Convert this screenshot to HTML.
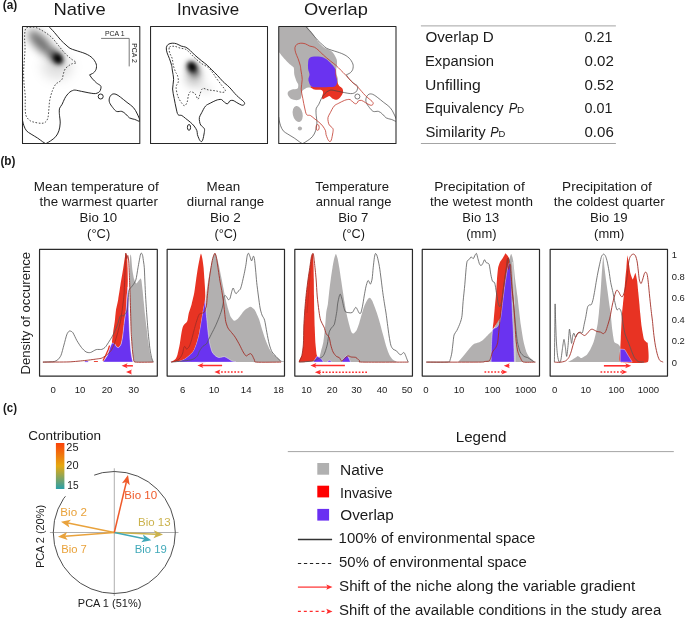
<!DOCTYPE html>
<html lang="en"><head><meta charset="utf-8"><title>Niche overlap figure</title>
<style>
html,body{margin:0;padding:0;background:#fff;}
svg{display:block;font-family:"Liberation Sans", sans-serif;}
</style></head><body>
<svg width="685" height="618" viewBox="0 0 685 618">
<defs>
<filter id="b5" filterUnits="userSpaceOnUse" x="0" y="0" width="420" height="170"><feGaussianBlur stdDeviation="4.2"/></filter>
<filter id="b3" filterUnits="userSpaceOnUse" x="0" y="0" width="420" height="170"><feGaussianBlur stdDeviation="3.0"/></filter>
<filter id="b2" filterUnits="userSpaceOnUse" x="0" y="0" width="420" height="170"><feGaussianBlur stdDeviation="2.0"/></filter>
<filter id="b8" filterUnits="userSpaceOnUse" x="0" y="0" width="420" height="170"><feGaussianBlur stdDeviation="6.0"/></filter>
<clipPath id="cpa0"><rect x="22.5" y="26.45" width="117.3" height="116.95"/></clipPath>
<clipPath id="cpa1"><rect x="150.55" y="26.45" width="116.95" height="116.95"/></clipPath>
<clipPath id="cpa2"><rect x="278.75" y="26.45" width="117.25" height="116.95"/></clipPath>
<clipPath id="cpb0"><rect x="39.55" y="249.45" width="117.75" height="126.6"/></clipPath>
<clipPath id="cpb1"><rect x="167.15" y="249.45" width="117.35" height="126.6"/></clipPath>
<clipPath id="cpb2"><rect x="294.8" y="249.45" width="117.65" height="126.6"/></clipPath>
<clipPath id="cpb3"><rect x="422.25" y="249.45" width="117.25" height="126.6"/></clipPath>
<clipPath id="cpb4"><rect x="550.15" y="249.45" width="117.35" height="126.6"/></clipPath>
<linearGradient id="cg" x1="0" y1="0" x2="0" y2="1"><stop offset="0" stop-color="#fb4209"/><stop offset="0.5" stop-color="#e4a911"/><stop offset="1" stop-color="#2a9fa8"/></linearGradient>
</defs>
<rect width="685" height="618" fill="#fff"/>
<text x="53.53" y="15.2" font-size="17" textLength="52.09" lengthAdjust="spacingAndGlyphs" fill="#1a1a1a" >Native</text>
<text x="176.98" y="15.2" font-size="17" textLength="62.15" lengthAdjust="spacingAndGlyphs" fill="#1a1a1a" >Invasive</text>
<text x="304.08" y="15.2" font-size="17" textLength="63.78" lengthAdjust="spacingAndGlyphs" fill="#1a1a1a" >Overlap</text>
<text x="2.71" y="9.1" font-size="12" textLength="14.45" lengthAdjust="spacingAndGlyphs" fill="#1a1a1a" font-weight="bold" >(a)</text>
<g clip-path="url(#cpa0)">
<g filter="url(#b8)"><ellipse cx="57" cy="67" rx="15" ry="12" fill="#000" opacity="0.12"/></g>
<g filter="url(#b5)"><ellipse cx="41" cy="43" rx="17" ry="6.5" fill="#000" opacity="0.58" transform="rotate(45 41 43)"/></g>
<g filter="url(#b3)"><ellipse cx="56" cy="57" rx="8.5" ry="6" fill="#000" opacity="0.6" transform="rotate(50 56 57)"/></g>
<g filter="url(#b2)"><ellipse cx="57.9" cy="58.7" rx="5.2" ry="4" fill="#000" transform="rotate(50 57.9 58.7)"/></g>
</g>
<g clip-path="url(#cpa0)"><g transform="translate(0 0)" fill="none" stroke="#1a1a1a" stroke-width="0.95" stroke-linejoin="round"><path d="M46.5,24C46.83,24.37 47.18,24.8 48.5,26.2C49.82,27.6 52.35,30.08 54.4,32.4C56.45,34.72 58.87,38 60.8,40.1C62.73,42.2 64.47,43.63 66,45C67.53,46.37 68.5,47.43 70,48.3C71.5,49.17 73.27,49.6 75,50.2C76.73,50.8 78.73,51.35 80.4,51.9C82.07,52.45 83.5,52.87 85,53.5C86.5,54.13 88.15,54.92 89.4,55.7C90.65,56.48 91.63,57.35 92.5,58.2C93.37,59.05 93.98,59.83 94.6,60.8C95.22,61.77 95.88,63.02 96.2,64C96.52,64.98 96.53,65.78 96.5,66.7C96.47,67.62 96.32,68.65 96,69.5C95.68,70.35 95.18,71.13 94.6,71.8C94.02,72.47 93.33,73 92.5,73.5C91.67,74 90.08,74.58 89.6,74.8"/><path d="M89.6,74.8C89.83,75.17 90.48,76.28 91,77C91.52,77.72 91.78,78.12 92.7,79.1C93.62,80.08 95.22,81.83 96.5,82.9C97.78,83.97 99.65,84.82 100.4,85.5C101.15,86.18 100.93,86.45 101,87C101.07,87.55 100.93,88.2 100.8,88.8C100.67,89.4 100.48,90.07 100.2,90.6C99.92,91.13 99.63,91.57 99.1,92C98.57,92.43 97.87,92.93 97,93.2C96.13,93.47 95.38,93.68 93.9,93.6C92.42,93.52 90.13,93.07 88.1,92.7C86.07,92.33 83.85,91.83 81.7,91.4C79.55,90.97 76.73,90.23 75.2,90.1C73.67,89.97 73.38,90.28 72.5,90.6C71.62,90.92 70.82,91.27 69.9,92C68.98,92.73 67.87,93.92 67,95C66.13,96.08 65.52,96.95 64.7,98.5C63.88,100.05 62.95,102.68 62.1,104.3C61.25,105.92 60.07,106.92 59.6,108.2C59.13,109.48 59.32,110.82 59.3,112C59.28,113.18 59.35,113.45 59.5,115.3C59.65,117.15 60.3,120.52 60.2,123.1C60.1,125.68 59.65,128.53 58.9,130.8C58.15,133.07 57.1,135.02 55.7,136.7C54.3,138.38 52.07,139.78 50.5,140.9C48.93,142.02 47.55,142.68 46.3,143.4C45.05,144.12 43.55,144.9 43,145.2"/><path d="M47.5,145.5C47.12,145.15 46,144.02 45.2,143.4C44.4,142.78 43.98,142.7 42.7,141.8C41.42,140.9 39.43,139.28 37.5,138C35.57,136.72 32.93,135.3 31.1,134.1C29.27,132.9 27.7,132.2 26.5,130.8C25.3,129.4 24.55,127.37 23.9,125.7C23.25,124.03 22.92,122.25 22.6,120.8C22.28,119.35 22.1,117.63 22,117"/><path d="M139.9,121.1C140.33,120.2 138.38,116.27 137.3,114C136.22,111.73 135.12,109.43 133.4,107.5C131.68,105.57 129.15,104.12 127,102.4C124.85,100.68 122.33,98.55 120.5,97.2C118.67,95.85 117.4,94.78 116,94.3C114.6,93.82 113.18,93.72 112.1,94.3C111.02,94.88 109.93,96.45 109.5,97.8C109.07,99.15 108.97,100.78 109.5,102.4C110.03,104.02 111.52,106 112.7,107.5C113.88,109 115.08,110.75 116.6,111.4C118.12,112.05 120.28,110.97 121.8,111.4C123.32,111.83 124.42,112.92 125.7,114C126.98,115.08 128,117 129.5,117.9C131,118.8 132.97,118.87 134.7,119.4C136.43,119.93 139.47,122 139.9,121.1Z"/><circle cx="100.7" cy="96.5" r="2.5"/></g></g>
<path d="M26.5,27.8C27.5,27.17 29.38,27.23 31,27.2C32.62,27.17 34.03,26.85 36.2,27.6C38.37,28.35 41.4,30.05 44,31.7C46.6,33.35 49.42,35.23 51.8,37.5C54.18,39.77 56.15,42.7 58.3,45.3C60.45,47.9 62.55,50.83 64.7,53.1C66.85,55.37 69.28,57.32 71.2,58.9C73.12,60.48 75.98,61.82 76.2,62.6C76.42,63.38 73.55,63.22 72.5,63.6C71.45,63.98 71.08,64.07 69.9,64.9C68.72,65.73 66.48,67.12 65.4,68.6C64.32,70.08 63.95,72.05 63.4,73.8C62.85,75.55 62.83,77.73 62.1,79.1C61.37,80.47 60.07,81.15 59,82C57.93,82.85 56.8,82.75 55.7,84.2C54.6,85.65 53.38,88.1 52.4,90.7C51.42,93.3 50.38,96.78 49.8,99.8C49.22,102.82 49.22,105.78 48.9,108.8C48.58,111.82 48.5,115.67 47.9,117.9C47.3,120.13 46.38,121.3 45.3,122.2C44.22,123.1 43.12,123.27 41.4,123.3C39.68,123.33 36.93,122.87 35,122.4C33.07,121.93 31.32,121.68 29.8,120.5C28.28,119.32 26.67,117.68 25.9,115.3C25.13,112.92 25.32,109.43 25.2,106.2C25.08,102.97 25.4,99.78 25.2,95.9C25,92.02 24.27,86.72 24,82.9C23.73,79.08 23.63,75.6 23.6,73C23.57,70.4 23.57,71.27 23.8,67.3C24.03,63.33 24.87,53.95 25,49.2C25.13,44.45 24.6,41.83 24.6,38.8C24.6,35.77 24.68,32.83 25,31C25.32,29.17 25.5,28.43 26.5,27.8Z" fill="none" stroke="#222" stroke-width="0.8" stroke-dasharray="1.6 1.6"/>
<path d="M101.1,38.4H129.2V66.4" fill="none" stroke="#787878" stroke-width="1"/>
<text x="105" y="35.7" font-size="6.5" textLength="19.6" lengthAdjust="spacingAndGlyphs" fill="#222" >PCA 1</text>
<text x="132.1" y="43.2" font-size="6.5" textLength="19.6" lengthAdjust="spacingAndGlyphs" fill="#222" transform="rotate(90 132.1 43.2)" >PCA 2</text>
<g clip-path="url(#cpa1)">
<g filter="url(#b5)"><ellipse cx="194" cy="78" rx="9" ry="9" fill="#000" opacity="0.2"/><ellipse cx="206" cy="89" rx="5" ry="3" fill="#000" opacity="0.15"/></g>
<g filter="url(#b3)"><ellipse cx="193" cy="69" rx="8" ry="5.4" fill="#000" opacity="0.66" transform="rotate(58 193 69)"/></g>
<g filter="url(#b2)"><ellipse cx="192" cy="66.8" rx="5" ry="3.8" fill="#000" transform="rotate(58 192 66.8)"/></g>
</g>
<g transform="translate(0 0)" fill="none" stroke="#1a1a1a" stroke-width="0.95" stroke-linejoin="round"><path d="M172.2,43.2C173.62,43.1 175.2,43.32 176.7,43.8C178.2,44.28 179.68,45.53 181.2,46.1C182.72,46.67 184.28,46.45 185.8,47.2C187.32,47.95 188.8,49.28 190.3,50.6C191.8,51.92 192.92,53.4 194.8,55.1C196.68,56.8 199.52,59.1 201.6,60.8C203.68,62.5 205.6,63.8 207.3,65.3C209,66.8 210.1,68.1 211.8,69.8C213.5,71.5 215.62,73.52 217.5,75.5C219.38,77.48 221.15,79.77 223.1,81.7C225.05,83.63 226.92,84.78 229.2,87.1C231.48,89.42 234.43,93.23 236.8,95.6C239.17,97.97 242.1,99.97 243.4,101.3C244.7,102.63 244.57,102.98 244.6,103.6C244.63,104.22 244.12,104.75 243.6,105C243.08,105.25 242.63,105.5 241.5,105.1C240.37,104.7 238.22,103.38 236.8,102.6C235.38,101.82 234.17,100.68 233,100.4C231.83,100.12 230.53,100.48 229.8,100.9C229.07,101.32 229.07,102.42 228.6,102.9C228.13,103.38 227.68,103.9 227,103.8C226.32,103.7 225.4,103 224.5,102.3C223.6,101.6 222.55,100.05 221.6,99.6C220.65,99.15 219.75,99.47 218.8,99.6C217.85,99.73 217.33,99.8 215.9,100.4C214.47,101 211.93,102.25 210.2,103.2C208.47,104.15 206.92,104.52 205.5,106.1C204.08,107.68 202.72,110.82 201.7,112.7C200.68,114.58 199.75,115.93 199.4,117.4C199.05,118.87 199.38,120.23 199.6,121.5C199.82,122.77 199.92,123.82 200.7,125C201.48,126.18 203.7,127.35 204.3,128.6C204.9,129.85 204.42,131.2 204.3,132.5C204.18,133.8 203.88,135.1 203.6,136.4C203.32,137.7 202.97,139.43 202.6,140.3C202.23,141.17 201.83,141.55 201.4,141.6C200.97,141.65 200.43,141.15 200,140.6C199.57,140.05 199.23,139.32 198.8,138.3C198.37,137.28 197.72,135.77 197.4,134.5C197.08,133.23 197.45,132.12 196.9,130.7C196.35,129.28 195.2,127.42 194.1,126C193,124.58 191.73,123.47 190.3,122.2C188.87,120.93 186.92,119.52 185.5,118.4C184.08,117.28 183.05,116.13 181.8,115.5C180.55,114.87 178.95,115.85 178,114.6C177.05,113.35 176.73,110.68 176.1,108C175.47,105.32 174.78,101.67 174.2,98.5C173.62,95.33 172.7,92.17 172.6,89C172.5,85.83 173.65,82.67 173.6,79.5C173.55,76.33 172.63,72.37 172.3,70C171.97,67.63 172.08,67.22 171.6,65.3C171.12,63.38 170.15,60.58 169.4,58.5C168.65,56.42 167.62,54.58 167.1,52.8C166.58,51.02 166.12,49.2 166.3,47.8C166.48,46.4 167.22,45.17 168.2,44.4C169.18,43.63 170.78,43.3 172.2,43.2Z"/><ellipse cx="189" cy="127.4" rx="1.6" ry="2.9"/></g>
<path d="M169.4,47.2C170.18,46.12 172.62,46.15 174.4,46.3C176.18,46.45 178.2,47.58 180.1,48.1C182,48.62 184.1,48.52 185.8,49.4C187.5,50.28 188.8,51.98 190.3,53.4C191.8,54.82 192.92,56.2 194.8,57.9C196.68,59.6 199.33,61.98 201.6,63.6C203.87,65.22 206.5,66 208.4,67.6C210.3,69.2 211.75,71.53 213,73.2C214.25,74.87 214.47,75.6 215.9,77.6C217.33,79.6 220.02,83.03 221.6,85.2C223.18,87.37 225.23,89.4 225.4,90.6C225.57,91.8 224.18,92.35 222.6,92.4C221.02,92.45 218.28,91.32 215.9,90.9C213.52,90.48 210.52,90.28 208.3,89.9C206.08,89.52 204.02,87.8 202.6,88.6C201.18,89.4 200.58,92.93 199.8,94.7C199.02,96.47 198.7,99.37 197.9,99.2C197.1,99.03 196.27,94.93 195,93.7C193.73,92.47 191.4,91.48 190.3,91.8C189.2,92.12 188.93,93.85 188.4,95.6C187.87,97.35 187.73,100.62 187.1,102.3C186.47,103.98 185.48,105.55 184.6,105.7C183.72,105.85 182.9,104.72 181.8,103.2C180.7,101.68 178.95,99.28 178,96.6C177.05,93.92 176.03,89.62 176.1,87.1C176.17,84.58 178.2,83.52 178.4,81.5C178.6,79.48 177.77,76.57 177.3,75C176.83,73.43 176.27,73.72 175.6,72.1C174.93,70.48 173.87,67.57 173.3,65.3C172.73,63.03 172.8,60.58 172.2,58.5C171.6,56.42 170.17,54.68 169.7,52.8C169.23,50.92 168.62,48.28 169.4,47.2Z" fill="none" stroke="#222" stroke-width="0.8" stroke-dasharray="1.6 1.6"/>
<g clip-path="url(#cpa2)">
<path d="M278.6,26C282.12,22.67 300.95,25.59 305,26C309.05,26.41 307.87,27.94 309,29.1C310.13,30.26 312.3,33.05 313.5,34.7C314.7,36.35 316.64,39.83 318,41.5C319.36,43.17 322.03,45.99 323.7,47.2C325.37,48.41 329.14,49.69 330.5,50.6C331.86,51.51 333.07,52.8 333.9,54C334.73,55.2 336.29,58.24 336.7,59.6C337.11,60.96 337.07,62.81 337,64.2C336.93,65.59 336.24,68.64 336.2,70C336.16,71.36 336.47,73.21 336.7,74.4C336.93,75.59 337.82,77.7 337.9,78.9C337.98,80.1 337.82,82.19 337.3,83.4C336.78,84.61 337.63,87.44 334,88C330.37,88.56 313.89,87.53 310.1,87.6C306.31,87.67 306.63,88.07 305.6,88.5C304.57,88.93 302.93,89.97 302.4,90.8C301.87,91.63 301.85,93.65 301.6,94.7C301.35,95.75 301.18,97.97 300.5,98.7C299.82,99.43 297.78,100.2 296.5,100.2C295.22,100.2 292.03,99.35 290.9,98.7C289.77,98.05 288.39,96.21 288,95.3C287.61,94.39 287.47,92.66 288,91.9C288.53,91.14 290.73,90.05 292,89.6C293.27,89.15 296.67,89.18 297.5,88.5C298.33,87.82 298.33,85.47 298.2,84.5C298.07,83.53 297.02,82.55 296.5,81.2C295.98,79.85 294.67,76.21 294.3,74.4C293.93,72.59 294.31,68.96 293.7,67.6C293.09,66.24 290.98,65.41 289.7,64.2C288.42,62.99 285.46,60.02 284.1,58.5C282.74,56.98 280.23,53.8 279.5,52.8C278.77,51.8 278.72,54.57 278.6,51C278.48,47.43 275.08,29.33 278.6,26Z" fill="#b2b0b0"/>
<ellipse cx="297.7" cy="114" rx="4.9" ry="8.1" fill="#b2b0b0" transform="rotate(-12 297.7 114)"/>
<circle cx="299.9" cy="128.5" r="2.1" fill="#b2b0b0"/>
<path d="M311.2,86.4C308.75,86.88 313.24,89.12 314.6,89.6C315.96,90.08 320.27,89.61 321.4,90C322.53,90.39 323.02,91.57 323.1,92.5C323.18,93.43 322.04,96.09 322,97C321.96,97.91 322.27,99.22 322.8,99.3C323.33,99.38 325.12,98.05 326,97.6C326.88,97.15 328.49,95.75 329.4,95.9C330.31,96.05 331.83,98.18 332.8,98.7C333.77,99.22 335.73,99.95 336.7,99.8C337.67,99.65 339.26,98.57 340.1,97.6C340.94,96.63 342.69,93.71 343,92.5C343.31,91.29 342.85,89.34 342.4,88.5C341.95,87.66 340.2,86.88 339.6,86.2C339,85.52 338.25,84.23 337.9,83.4C337.55,82.57 337.27,81.25 337,80C336.73,78.75 336.11,75.47 335.9,74C335.69,72.53 335.79,69.53 335.4,69C335.01,68.47 333.32,67.73 333,70C332.68,72.27 335.91,83.81 333,86C330.09,88.19 313.65,85.92 311.2,86.4Z" fill="#e83323"/>
<path d="M309,58.7C309.72,57.67 310.52,57.12 312.4,56.8C314.28,56.48 318.03,56.42 320.3,56.8C322.57,57.18 324.12,57.87 326,59.1C327.88,60.33 330.1,62.6 331.6,64.2C333.1,65.8 334.33,66.82 335,68.7C335.67,70.58 335.25,73.42 335.6,75.5C335.95,77.58 337,79.6 337.1,81.2C337.2,82.8 336.73,84.17 336.2,85.1C335.67,86.03 335.6,86.45 333.9,86.8C332.2,87.15 329.22,87.13 326,87.2C322.78,87.27 317.15,87.45 314.6,87.2C312.05,86.95 311.63,86.52 310.7,85.7C309.77,84.88 309.38,83.43 309,82.3C308.62,81.17 308.32,80.22 308.4,78.9C308.48,77.58 309.55,76.1 309.5,74.4C309.45,72.7 308.33,70.6 308.1,68.7C307.87,66.8 307.95,64.67 308.1,63C308.25,61.33 308.28,59.73 309,58.7Z" fill="#6a33f0"/>
</g>
<g clip-path="url(#cpa2)"><g transform="translate(256.7 0)" fill="none" stroke="#444" stroke-width="0.7" stroke-linejoin="round"><path d="M46.5,24C46.83,24.37 47.18,24.8 48.5,26.2C49.82,27.6 52.35,30.08 54.4,32.4C56.45,34.72 58.87,38 60.8,40.1C62.73,42.2 64.47,43.63 66,45C67.53,46.37 68.5,47.43 70,48.3C71.5,49.17 73.27,49.6 75,50.2C76.73,50.8 78.73,51.35 80.4,51.9C82.07,52.45 83.5,52.87 85,53.5C86.5,54.13 88.15,54.92 89.4,55.7C90.65,56.48 91.63,57.35 92.5,58.2C93.37,59.05 93.98,59.83 94.6,60.8C95.22,61.77 95.88,63.02 96.2,64C96.52,64.98 96.53,65.78 96.5,66.7C96.47,67.62 96.32,68.65 96,69.5C95.68,70.35 95.18,71.13 94.6,71.8C94.02,72.47 93.33,73 92.5,73.5C91.67,74 90.08,74.58 89.6,74.8"/><path d="M89.6,74.8C89.83,75.17 90.48,76.28 91,77C91.52,77.72 91.78,78.12 92.7,79.1C93.62,80.08 95.22,81.83 96.5,82.9C97.78,83.97 99.65,84.82 100.4,85.5C101.15,86.18 100.93,86.45 101,87C101.07,87.55 100.93,88.2 100.8,88.8C100.67,89.4 100.48,90.07 100.2,90.6C99.92,91.13 99.63,91.57 99.1,92C98.57,92.43 97.87,92.93 97,93.2C96.13,93.47 95.38,93.68 93.9,93.6C92.42,93.52 90.13,93.07 88.1,92.7C86.07,92.33 83.85,91.83 81.7,91.4C79.55,90.97 76.73,90.23 75.2,90.1C73.67,89.97 73.38,90.28 72.5,90.6C71.62,90.92 70.82,91.27 69.9,92C68.98,92.73 67.87,93.92 67,95C66.13,96.08 65.52,96.95 64.7,98.5C63.88,100.05 62.95,102.68 62.1,104.3C61.25,105.92 60.07,106.92 59.6,108.2C59.13,109.48 59.32,110.82 59.3,112C59.28,113.18 59.35,113.45 59.5,115.3C59.65,117.15 60.3,120.52 60.2,123.1C60.1,125.68 59.65,128.53 58.9,130.8C58.15,133.07 57.1,135.02 55.7,136.7C54.3,138.38 52.07,139.78 50.5,140.9C48.93,142.02 47.55,142.68 46.3,143.4C45.05,144.12 43.55,144.9 43,145.2"/><path d="M47.5,145.5C47.12,145.15 46,144.02 45.2,143.4C44.4,142.78 43.98,142.7 42.7,141.8C41.42,140.9 39.43,139.28 37.5,138C35.57,136.72 32.93,135.3 31.1,134.1C29.27,132.9 27.7,132.2 26.5,130.8C25.3,129.4 24.55,127.37 23.9,125.7C23.25,124.03 22.92,122.25 22.6,120.8C22.28,119.35 22.1,117.63 22,117"/><path d="M139.9,121.1C140.33,120.2 138.38,116.27 137.3,114C136.22,111.73 135.12,109.43 133.4,107.5C131.68,105.57 129.15,104.12 127,102.4C124.85,100.68 122.33,98.55 120.5,97.2C118.67,95.85 117.4,94.78 116,94.3C114.6,93.82 113.18,93.72 112.1,94.3C111.02,94.88 109.93,96.45 109.5,97.8C109.07,99.15 108.97,100.78 109.5,102.4C110.03,104.02 111.52,106 112.7,107.5C113.88,109 115.08,110.75 116.6,111.4C118.12,112.05 120.28,110.97 121.8,111.4C123.32,111.83 124.42,112.92 125.7,114C126.98,115.08 128,117 129.5,117.9C131,118.8 132.97,118.87 134.7,119.4C136.43,119.93 139.47,122 139.9,121.1Z"/><circle cx="100.7" cy="96.5" r="2.5"/></g></g>
<g transform="translate(128.6 0)" fill="none" stroke="#c0362a" stroke-width="0.8" stroke-linejoin="round"><path d="M172.2,43.2C173.62,43.1 175.2,43.32 176.7,43.8C178.2,44.28 179.68,45.53 181.2,46.1C182.72,46.67 184.28,46.45 185.8,47.2C187.32,47.95 188.8,49.28 190.3,50.6C191.8,51.92 192.92,53.4 194.8,55.1C196.68,56.8 199.52,59.1 201.6,60.8C203.68,62.5 205.6,63.8 207.3,65.3C209,66.8 210.1,68.1 211.8,69.8C213.5,71.5 215.62,73.52 217.5,75.5C219.38,77.48 221.15,79.77 223.1,81.7C225.05,83.63 226.92,84.78 229.2,87.1C231.48,89.42 234.43,93.23 236.8,95.6C239.17,97.97 242.1,99.97 243.4,101.3C244.7,102.63 244.57,102.98 244.6,103.6C244.63,104.22 244.12,104.75 243.6,105C243.08,105.25 242.63,105.5 241.5,105.1C240.37,104.7 238.22,103.38 236.8,102.6C235.38,101.82 234.17,100.68 233,100.4C231.83,100.12 230.53,100.48 229.8,100.9C229.07,101.32 229.07,102.42 228.6,102.9C228.13,103.38 227.68,103.9 227,103.8C226.32,103.7 225.4,103 224.5,102.3C223.6,101.6 222.55,100.05 221.6,99.6C220.65,99.15 219.75,99.47 218.8,99.6C217.85,99.73 217.33,99.8 215.9,100.4C214.47,101 211.93,102.25 210.2,103.2C208.47,104.15 206.92,104.52 205.5,106.1C204.08,107.68 202.72,110.82 201.7,112.7C200.68,114.58 199.75,115.93 199.4,117.4C199.05,118.87 199.38,120.23 199.6,121.5C199.82,122.77 199.92,123.82 200.7,125C201.48,126.18 203.7,127.35 204.3,128.6C204.9,129.85 204.42,131.2 204.3,132.5C204.18,133.8 203.88,135.1 203.6,136.4C203.32,137.7 202.97,139.43 202.6,140.3C202.23,141.17 201.83,141.55 201.4,141.6C200.97,141.65 200.43,141.15 200,140.6C199.57,140.05 199.23,139.32 198.8,138.3C198.37,137.28 197.72,135.77 197.4,134.5C197.08,133.23 197.45,132.12 196.9,130.7C196.35,129.28 195.2,127.42 194.1,126C193,124.58 191.73,123.47 190.3,122.2C188.87,120.93 186.92,119.52 185.5,118.4C184.08,117.28 183.05,116.13 181.8,115.5C180.55,114.87 178.95,115.85 178,114.6C177.05,113.35 176.73,110.68 176.1,108C175.47,105.32 174.78,101.67 174.2,98.5C173.62,95.33 172.7,92.17 172.6,89C172.5,85.83 173.65,82.67 173.6,79.5C173.55,76.33 172.63,72.37 172.3,70C171.97,67.63 172.08,67.22 171.6,65.3C171.12,63.38 170.15,60.58 169.4,58.5C168.65,56.42 167.62,54.58 167.1,52.8C166.58,51.02 166.12,49.2 166.3,47.8C166.48,46.4 167.22,45.17 168.2,44.4C169.18,43.63 170.78,43.3 172.2,43.2Z"/><ellipse cx="189" cy="127.4" rx="1.6" ry="2.9"/></g>
<rect x="22.5" y="26.45" width="117.3" height="116.95" fill="none" stroke="#262626" stroke-width="1.05" stroke-linejoin="round"/>
<rect x="150.55" y="26.45" width="116.95" height="116.95" fill="none" stroke="#262626" stroke-width="1.05" stroke-linejoin="round"/>
<rect x="278.75" y="26.45" width="117.25" height="116.95" fill="none" stroke="#262626" stroke-width="1.05" stroke-linejoin="round"/>
<path d="M420.9,25.9H615.9M420.9,143.5H615.9" stroke="#a4a4a4" stroke-width="1" fill="none"/>
<text x="425.42" y="42.4" font-size="14" textLength="68.39" lengthAdjust="spacingAndGlyphs" fill="#1a1a1a" >Overlap D</text>
<text x="424.92" y="66" font-size="14" textLength="69.15" lengthAdjust="spacingAndGlyphs" fill="#1a1a1a" >Expansion</text>
<text x="424.92" y="89.7" font-size="14" textLength="55.94" lengthAdjust="spacingAndGlyphs" fill="#1a1a1a" >Unfilling</text>
<text x="424.93" y="113.4" font-size="14" textLength="78.67" lengthAdjust="spacingAndGlyphs" fill="#1a1a1a" >Equivalency</text>
<text x="508.71" y="113.4" font-size="14" textLength="8.58" lengthAdjust="spacingAndGlyphs" fill="#1a1a1a" font-style="italic" >P</text>
<text x="516.91" y="113.4" font-size="8.8" textLength="7.16" lengthAdjust="spacingAndGlyphs" fill="#1a1a1a" >D</text>
<text x="425.43" y="137.1" font-size="14" textLength="60.15" lengthAdjust="spacingAndGlyphs" fill="#1a1a1a" >Similarity</text>
<text x="490.32" y="137.1" font-size="14" textLength="8.47" lengthAdjust="spacingAndGlyphs" fill="#1a1a1a" font-style="italic" >P</text>
<text x="498.45" y="137.1" font-size="8.8" textLength="6.8" lengthAdjust="spacingAndGlyphs" fill="#1a1a1a" >D</text>
<text x="584.53" y="42.4" font-size="14" textLength="27.91" lengthAdjust="spacingAndGlyphs" fill="#1a1a1a" >0.21</text>
<text x="584.5" y="66" font-size="14" textLength="29.38" lengthAdjust="spacingAndGlyphs" fill="#1a1a1a" >0.02</text>
<text x="584.5" y="89.7" font-size="14" textLength="29.38" lengthAdjust="spacingAndGlyphs" fill="#1a1a1a" >0.52</text>
<text x="584.53" y="113.4" font-size="14" textLength="27.91" lengthAdjust="spacingAndGlyphs" fill="#1a1a1a" >0.01</text>
<text x="584.5" y="137.1" font-size="14" textLength="29.3" lengthAdjust="spacingAndGlyphs" fill="#1a1a1a" >0.06</text>
<text x="0.41" y="164.6" font-size="12" textLength="15.04" lengthAdjust="spacingAndGlyphs" fill="#1a1a1a" font-weight="bold" >(b)</text>
<text x="33.82" y="190.7" font-size="12.2" textLength="124.95" lengthAdjust="spacingAndGlyphs" fill="#1a1a1a" >Mean temperature of</text>
<text x="39.6" y="206.3" font-size="12.2" textLength="118.24" lengthAdjust="spacingAndGlyphs" fill="#1a1a1a" >the warmest quarter</text>
<text x="79.64" y="221.9" font-size="12.2" textLength="37.49" lengthAdjust="spacingAndGlyphs" fill="#1a1a1a" >Bio 10</text>
<text x="87.13" y="237.5" font-size="12.2" textLength="23.09" lengthAdjust="spacingAndGlyphs" fill="#1a1a1a" >(°C)</text>
<text x="206.63" y="190.7" font-size="12.2" textLength="33.57" lengthAdjust="spacingAndGlyphs" fill="#1a1a1a" >Mean</text>
<text x="186.87" y="206.3" font-size="12.2" textLength="77.36" lengthAdjust="spacingAndGlyphs" fill="#1a1a1a" >diurnal range</text>
<text x="209.92" y="221.9" font-size="12.2" textLength="30.75" lengthAdjust="spacingAndGlyphs" fill="#1a1a1a" >Bio 2</text>
<text x="214.44" y="237.5" font-size="12.2" textLength="22.66" lengthAdjust="spacingAndGlyphs" fill="#1a1a1a" >(°C)</text>
<text x="315.37" y="190.7" font-size="12.2" textLength="73.6" lengthAdjust="spacingAndGlyphs" fill="#1a1a1a" >Temperature</text>
<text x="315.82" y="206.3" font-size="12.2" textLength="75.51" lengthAdjust="spacingAndGlyphs" fill="#1a1a1a" >annual range</text>
<text x="338.25" y="221.9" font-size="12.2" textLength="30" lengthAdjust="spacingAndGlyphs" fill="#1a1a1a" >Bio 7</text>
<text x="342.24" y="237.5" font-size="12.2" textLength="22.66" lengthAdjust="spacingAndGlyphs" fill="#1a1a1a" >(°C)</text>
<text x="434.21" y="190.7" font-size="12.2" textLength="90.49" lengthAdjust="spacingAndGlyphs" fill="#1a1a1a" >Precipitation of</text>
<text x="430.1" y="206.3" font-size="12.2" textLength="102.99" lengthAdjust="spacingAndGlyphs" fill="#1a1a1a" >the wetest month</text>
<text x="462.36" y="221.9" font-size="12.2" textLength="36.83" lengthAdjust="spacingAndGlyphs" fill="#1a1a1a" >Bio 13</text>
<text x="466.32" y="237.5" font-size="12.2" textLength="30.18" lengthAdjust="spacingAndGlyphs" fill="#1a1a1a" >(mm)</text>
<text x="562.12" y="190.7" font-size="12.2" textLength="89.68" lengthAdjust="spacingAndGlyphs" fill="#1a1a1a" >Precipitation of</text>
<text x="553.8" y="206.3" font-size="12.2" textLength="110.94" lengthAdjust="spacingAndGlyphs" fill="#1a1a1a" >the coldest quarter</text>
<text x="590.14" y="221.9" font-size="12.2" textLength="37.46" lengthAdjust="spacingAndGlyphs" fill="#1a1a1a" >Bio 19</text>
<text x="594.12" y="237.5" font-size="12.2" textLength="30.18" lengthAdjust="spacingAndGlyphs" fill="#1a1a1a" >(mm)</text>
<text x="30.1" y="374.55" font-size="13.7" textLength="122.68" lengthAdjust="spacingAndGlyphs" fill="#1a1a1a" transform="rotate(-90 30.1 374.55)">Density of occurence</text>
<g clip-path="url(#cpb0)">
<path d="M134.3,362.1C134.19,361.59 133.39,358.31 133.2,357C133.01,355.69 132.58,351.4 132.4,349C132.22,346.6 131.59,336.4 131.4,333C131.21,329.6 130.65,319.27 130.5,315C130.35,310.73 129.98,295.03 129.9,290.3C129.82,285.57 129.68,271.08 129.7,267.7C129.72,264.32 130.01,257.81 130.1,256.5C130.19,255.19 130.48,254.5 130.6,254.6C130.72,254.7 131.12,255.97 131.3,257.5C131.48,259.03 132.12,267.75 132.4,269.9C132.68,272.05 133.71,277.64 134.1,279C134.49,280.36 135.79,283.39 136.3,283.5C136.81,283.61 138.79,280.61 139.2,280.1C139.61,279.59 140.18,278.4 140.4,278.4C140.62,278.4 141.18,278.91 141.4,280.1C141.62,281.29 142.37,288.15 142.6,290.3C142.83,292.45 143.48,299.33 143.7,301.6C143.92,303.87 144.52,310.46 144.8,313C145.08,315.54 146.16,324.13 146.5,327C146.84,329.87 147.8,338.87 148.2,341.7C148.6,344.53 150.08,353.41 150.5,355.3C150.92,357.19 152.1,359.92 152.4,360.6C152.7,361.28 153.39,361.95 153.5,362.1Z" fill="#b2b0b0"/>
<path d="M125.6,253C125.7,253.16 126.44,254.15 126.6,254.6C126.76,255.05 127.1,256.19 127.2,257.5C127.3,258.81 127.54,265.55 127.6,267.7C127.66,269.85 127.8,276.97 127.8,279C127.8,281.03 127.71,286.3 127.6,288C127.49,289.7 126.85,293.8 126.7,296C126.55,298.2 126.33,307.47 126.1,310C125.87,312.53 124.74,318.7 124.4,321.3C124.06,323.9 123.03,333.73 122.7,336C122.37,338.27 121.49,342.86 121.1,344C120.71,345.14 119.26,347.12 118.8,347.4C118.34,347.68 116.9,347.14 116.5,346.8C116.1,346.46 115.25,344.36 114.8,344C114.35,343.64 112.17,344.33 112,343.2C111.83,342.07 112.82,334.89 113.1,332.7C113.38,330.51 114.51,323.57 114.8,321.3C115.09,319.03 115.66,312.19 116,310C116.34,307.81 117.75,301.94 118.2,299.4C118.65,296.86 119.99,287.77 120.5,284.6C121.01,281.43 122.89,270.26 123.3,267.7C123.71,265.14 124.47,259.87 124.6,259Z" fill="#e83323"/>
<path d="M102.9,362.1C103.36,361.42 106.82,356.66 107.5,355.3C108.18,353.94 109.25,349.71 109.7,348.5C110.15,347.29 111.49,343.65 112,343.2C112.51,342.75 114.35,343.64 114.8,344C115.25,344.36 116.1,346.46 116.5,346.8C116.9,347.14 118.34,347.68 118.8,347.4C119.26,347.12 120.71,345.14 121.1,344C121.49,342.86 122.37,338.27 122.7,336C123.03,333.73 124.06,323.9 124.4,321.3C124.74,318.7 125.81,312.53 126.1,310C126.39,307.47 127.12,298.3 127.3,296C127.48,293.7 127.79,287 127.9,287C128.01,287 128.31,293.2 128.4,296C128.49,298.8 128.69,311.33 128.8,315C128.91,318.67 129.31,329.24 129.5,332.7C129.69,336.16 130.47,347.11 130.7,349.6C130.93,352.09 131.58,356.35 131.8,357.6C132.02,358.85 132.79,361.65 132.9,362.1Z" fill="#6a33f0" stroke="#fff" stroke-width="0.5" stroke-opacity="0.85"/>
<path d="M109.4,346 L108.3,349.5 L105.6,355.5 L103.2,360.2" stroke="#e83323" stroke-width="1.3" fill="none" stroke-linecap="round"/>
<path d="M93.9,361.5H97.9" stroke="#e83323" stroke-width="0.9" fill="none"/>
<path d="M84.8,361.6H88.2" stroke="#6a33f0" stroke-width="0.8" fill="none"/>
<path d="M42.9,362.1C43.85,362.06 48.48,361.88 50,361.8C51.52,361.72 53.27,361.77 54.3,361.5C55.33,361.23 56.81,360.63 57.7,359.8C58.59,358.97 60.17,357.26 61,355.3C61.83,353.34 63.14,347.82 63.9,345.1C64.66,342.38 66.07,336.7 66.7,334.9C67.33,333.1 68.15,332.12 68.6,331.6C69.05,331.08 69.53,330.85 70.1,331C70.67,331.15 71.99,331.42 72.9,332.7C73.81,333.98 75.77,338.64 76.9,340.6C78.03,342.56 80.19,345.89 81.4,347.4C82.61,348.91 84.79,351.22 86,351.9C87.21,352.58 89.14,352.81 90.5,352.5C91.86,352.19 94.69,350.01 96.2,349.6C97.71,349.19 100.63,349.69 101.8,349.4C102.97,349.11 104.24,348.12 105,347.4C105.76,346.68 106.42,345.67 107.5,344C108.58,342.33 111.82,337.31 113.1,334.9C114.38,332.49 116.19,328.31 117.1,325.9C118.01,323.49 119.3,318.24 119.9,316.8C120.5,315.36 121.15,315.18 121.6,315.1C122.05,315.02 122.77,316.43 123.3,316.2C123.83,315.97 125.07,314.23 125.6,313.4C126.13,312.57 126.95,311.79 127.3,310C127.65,308.21 127.97,302.63 128.2,300C128.43,297.37 128.44,292.19 129,290.3C129.56,288.41 131.49,287.16 132.4,285.8C133.31,284.44 135.05,282.51 135.8,280.1C136.55,277.69 137.4,271.02 138,267.7C138.6,264.38 139.85,257.13 140.3,255.2C140.75,253.27 141.09,253.16 141.4,253.2C141.71,253.24 142.31,254.33 142.6,255.5C142.89,256.67 143.37,260.37 143.6,262C143.83,263.63 144.14,265.43 144.3,267.7C144.46,269.97 144.65,275.68 144.8,279C144.95,282.32 145.21,288.97 145.4,292.6C145.59,296.23 145.97,302.67 146.2,306.2C146.43,309.73 146.83,315.57 147.1,319.1C147.37,322.63 147.83,328.78 148.2,332.7C148.57,336.62 149.45,345.18 149.9,348.5C150.35,351.82 151.15,355.79 151.6,357.6C152.05,359.41 153.07,361.5 153.3,362.1" fill="none" stroke="#585858" stroke-width="0.8" stroke-linejoin="round"/>
<path d="M42.9,362.1C45.51,362.08 64.69,362.07 69,361.9C73.31,361.73 83.17,360.7 86,360.4C88.83,360.1 95.72,359.13 97.3,358.9C98.88,358.67 100.9,358.46 101.8,358.1C102.7,357.74 105.39,356.03 106.3,355.3C107.21,354.57 110.1,351.93 110.9,350.8C111.7,349.67 113.62,345.81 114.3,344C114.98,342.19 117.08,334.97 117.7,332.7C118.32,330.43 120.05,323.57 120.5,321.3C120.95,319.03 121.86,312.53 122.2,310C122.54,307.47 123.65,299.1 123.9,296C124.15,292.9 124.55,282.4 124.7,279C124.85,275.6 125.29,264.58 125.4,262C125.51,259.42 125.66,253.55 125.8,253.2C125.94,252.85 126.6,258.27 126.8,258.5C127,258.73 127.6,255.15 127.8,255.5C128,255.85 128.63,259.65 128.8,262C128.97,264.35 129.37,275.6 129.5,279C129.63,282.4 129.98,292.4 130.1,296C130.22,299.6 130.59,311.33 130.7,315C130.81,318.67 131.03,329.24 131.2,332.7C131.37,336.16 132.17,347 132.4,349.6C132.63,352.2 133.22,357.45 133.5,358.7C133.78,359.95 133.22,361.76 135.2,362.1C137.18,362.44 151.49,362.1 153.3,362.1" fill="none" stroke="#a22e26" stroke-width="0.9" stroke-linejoin="round"/>
</g>
<path d="M132.9,365.8H124.1" stroke="#ff2d2d" stroke-width="1.5" fill="none"/>
<path d="M121.6,365.8L127.6,363.3L126.1,365.8L127.6,368.3Z" fill="#ff2d2d"/>
<path d="M131.4,372.1H128.5" stroke="#ff2d2d" stroke-width="1.5" fill="none"/>
<path d="M126,372.1L132,369.6L130.5,372.1L132,374.6Z" fill="#ff2d2d"/>
<g clip-path="url(#cpb1)">
<path d="M205.9,298.2C205.96,297.68 206.2,295.29 206.4,293.7C206.6,292.11 207.26,286.85 207.6,284.6C207.94,282.35 208.9,276.64 209.3,274.4C209.7,272.16 210.55,267.51 211,265.4C211.45,263.29 212.74,257.72 213.2,256.3C213.66,254.88 214.5,253.2 214.9,253.2C215.3,253.2 216.13,254.88 216.6,256.3C217.07,257.72 218.36,263.02 218.9,265.4C219.44,267.78 220.67,274.06 221.2,276.7C221.72,279.34 222.88,285.35 223.4,288C223.93,290.65 225.16,297.02 225.7,299.4C226.24,301.78 227.57,306.81 228,308.4C228.43,309.99 229.09,312.02 229.4,313C229.72,313.98 230.15,315.89 230.7,316.8C231.25,317.71 233.31,320.53 234.1,320.8C234.89,321.07 236.58,319.96 237.5,319.1C238.42,318.24 241.08,314.51 242,313.4C242.92,312.29 244.41,310.38 245.4,309.6C246.39,308.82 249.45,306.7 250.5,306.7C251.55,306.7 253.68,308.75 254.4,309.6C255.12,310.45 256.16,312.89 256.7,314C257.24,315.11 258.33,317.19 259,319.1C259.67,321.01 261.61,327.89 262.4,330.4C263.19,332.91 265.01,338.49 265.8,340.6C266.59,342.71 268.41,346.98 269.2,348.5C269.99,350.02 271.68,352.54 272.6,353.6C273.52,354.66 276.18,356.81 277.1,357.6C278.02,358.39 280.03,359.88 280.5,360.4C280.97,360.92 289.91,361.9 281.1,362.1C272.29,362.3 213.88,362.1 205,362.1Z" fill="#b2b0b0"/>
<path d="M205.3,298.2C205.37,299.58 205.7,307.31 205.9,310C206.1,312.69 206.74,318.65 207,321.3C207.26,323.95 207.77,330.05 208.1,332.7C208.43,335.35 209.33,341.76 209.8,344C210.27,346.24 211.44,350.51 212.1,351.9C212.76,353.29 214.71,355.23 215.5,355.9C216.29,356.56 218.11,357.47 218.9,357.6C219.69,357.73 221.64,357.11 222.3,357C222.97,356.89 223.94,356.52 224.6,356.7C225.26,356.88 227.16,358 228,358.5C228.84,359 231.23,360.58 231.8,361C232.37,361.42 239.96,361.97 232.9,362.1C225.84,362.23 177.55,362.23 171.3,362.1C165.05,361.97 177.71,361.4 179.3,361C180.89,360.6 183.72,359.37 184.9,358.7C186.08,358.03 188.41,356.22 189.4,355.3C190.39,354.38 192.61,352.12 193.4,350.8C194.19,349.48 195.6,345.73 196.2,344C196.79,342.27 198.03,337.98 198.5,336C198.97,334.02 199.8,329.24 200.2,327C200.6,324.76 201.57,318.78 201.9,316.8C202.23,314.82 202.69,311.77 203,310C203.31,308.23 204.41,302.58 204.6,301.6Z" fill="#6a33f0" stroke="#fff" stroke-width="0.5" stroke-opacity="0.85"/>
<path d="M201,253.6C200.92,253.82 200.48,254.81 200.3,255.5C200.12,256.19 199.78,258.08 199.5,259.5C199.22,260.92 198.28,265.43 197.9,267.7C197.52,269.97 196.62,276.09 196.2,279C195.78,281.91 194.83,289.7 194.3,292.6C193.78,295.5 192.34,301.52 191.7,303.9C191.06,306.28 189.33,310.97 188.8,313C188.28,315.03 187.85,319.8 187.2,321.3C186.55,322.81 183.86,324.57 183.2,325.9C182.53,327.23 181.9,330.59 181.5,332.7C181.1,334.81 180.26,341.49 179.8,344C179.34,346.51 178.12,352.41 177.6,354.2C177.07,355.99 176.03,358.38 175.3,359.3C174.57,360.22 170.83,361.9 171.3,362.1C171.77,362.3 177.71,361.4 179.3,361C180.89,360.6 183.72,359.37 184.9,358.7C186.08,358.03 188.41,356.22 189.4,355.3C190.39,354.38 192.61,352.12 193.4,350.8C194.19,349.48 195.6,345.73 196.2,344C196.79,342.27 198.03,337.98 198.5,336C198.97,334.02 199.8,329.24 200.2,327C200.6,324.76 201.57,318.78 201.9,316.8C202.23,314.82 202.67,311.77 203,310C203.33,308.23 204.43,303.23 204.7,301.6C204.97,299.97 205.27,297.59 205.3,296C205.34,294.41 205.1,289.98 205,288C204.9,286.02 204.56,281.37 204.4,279C204.24,276.63 203.82,269.97 203.6,267.7C203.38,265.43 202.72,260.92 202.5,259.5C202.28,258.08 201.79,255.97 201.7,255.5Z" fill="#e83323"/>
<path d="M171.3,362.1C173.57,361.87 185.27,360.85 188.3,360.4C191.33,359.95 192.79,359.3 194,358.7C195.21,358.1 196.65,356.95 197.4,355.9C198.15,354.85 198.85,352.09 199.6,350.8C200.35,349.51 202.09,347.11 203,346.2C203.91,345.29 205.64,344.91 206.4,344C207.16,343.09 207.94,340.91 208.7,339.4C209.46,337.89 211.19,334.5 212.1,332.7C213.01,330.9 214.59,327.87 215.5,325.9C216.41,323.93 218.11,319.89 218.9,317.9C219.69,315.91 220.87,312.72 221.4,311C221.93,309.28 222.55,306.85 222.9,305C223.25,303.15 223.71,298.38 224,297.1C224.29,295.82 224.74,295.4 225.1,295.4C225.46,295.4 226.26,296.53 226.7,297.1C227.14,297.67 227.95,299.55 228.4,299.7C228.85,299.85 229.65,299.31 230.1,298.2C230.55,297.09 231.39,292.76 231.8,291.4C232.21,290.04 232.83,288 233.2,288C233.57,288 234.21,290.64 234.6,291.4C234.99,292.16 235.65,293.7 236.1,293.7C236.55,293.7 237.44,292 238,291.4C238.56,290.8 239.77,290.25 240.3,289.2C240.83,288.15 241.47,285.62 242,283.5C242.53,281.38 243.77,275.86 244.3,273.3C244.83,270.74 245.63,266.57 246,264.3C246.37,262.03 246.78,257.78 247.1,256.3C247.42,254.82 248.03,253.2 248.4,253.2C248.77,253.2 249.47,255.27 249.9,256.3C250.33,257.33 251.15,260.9 251.6,260.9C252.05,260.9 252.93,256.61 253.3,256.3C253.67,255.99 254.09,256.79 254.4,258.6C254.71,260.41 255.29,266.73 255.6,269.9C255.91,273.07 256.33,278.92 256.7,282.4C257.07,285.88 257.95,292.59 258.4,296C258.85,299.41 259.62,305.47 260.1,308C260.58,310.53 261.4,313.37 262,315C262.6,316.63 263.95,317.84 264.6,320.2C265.25,322.56 266.29,329.53 266.9,332.7C267.51,335.87 268.52,341.44 269.2,344C269.88,346.56 271.09,350.25 272,351.9C272.91,353.55 274.87,355.19 276,356.4C277.13,357.61 279.9,360.39 280.5,361" fill="none" stroke="#585858" stroke-width="0.8" stroke-linejoin="round"/>
<path d="M171.3,362.1C172.06,361.87 175.79,361 177,360.4C178.21,359.8 179.64,358.59 180.4,357.6C181.16,356.61 182.25,354.36 182.7,353C183.15,351.64 183.49,348.25 183.8,347.4C184.11,346.55 184.63,346.37 185,346.6C185.37,346.83 186.01,349.15 186.6,349.1C187.19,349.05 188.72,347.49 189.4,346.2C190.08,344.91 191.09,341.51 191.7,339.4C192.31,337.29 193.4,332.65 194,330.4C194.6,328.15 195.6,324.46 196.2,322.5C196.8,320.54 198.05,316.83 198.5,315.7C198.95,314.57 199.07,314.36 199.6,314C200.13,313.64 201.82,313.29 202.5,313C203.18,312.71 204.29,312.47 204.7,311.8C205.11,311.13 205.37,308.75 205.6,308C205.83,307.25 206.13,308.11 206.4,306.2C206.67,304.29 207.21,297.33 207.6,293.7C207.99,290.07 208.85,282.47 209.3,279C209.75,275.53 210.55,270.42 211,267.7C211.45,264.98 212.18,260.53 212.7,258.6C213.22,256.67 214.38,253.2 214.9,253.2C215.42,253.2 216.15,256.37 216.6,258.6C217.05,260.83 217.85,266.89 218.3,269.9C218.75,272.91 219.55,278.48 220,281.2C220.45,283.92 221.25,287.58 221.7,290.3C222.15,293.02 223.01,298.71 223.4,301.6C223.79,304.49 224.29,309.37 224.6,312C224.91,314.63 225.25,319.15 225.7,321.3C226.15,323.45 227.33,326.74 228,328.1C228.67,329.46 229.74,330.29 230.7,331.5C231.66,332.71 234,335.39 235.2,337.2C236.4,339.01 238.65,343.14 239.7,345.1C240.75,347.06 242.26,350.46 243.1,351.9C243.94,353.34 245.32,355.53 246,355.9C246.68,356.27 247.6,355.01 248.2,354.7C248.8,354.39 249.97,353.52 250.5,353.6C251.03,353.68 251.68,354.47 252.2,355.3C252.72,356.13 253.8,358.89 254.4,359.8C255,360.71 253.14,361.79 256.7,362.1C260.26,362.41 277.85,362.1 281.1,362.1" fill="none" stroke="#a22e26" stroke-width="0.9" stroke-linejoin="round"/>
</g>
<path d="M222.1,365.5H199.9" stroke="#ff2d2d" stroke-width="1.5" fill="none"/>
<path d="M197.4,365.5L203.4,363L201.9,365.5L203.4,368Z" fill="#ff2d2d"/>
<path d="M242.6,372.1H216.9" stroke="#ff2d2d" stroke-width="1.5" fill="none" stroke-dasharray="1.7 1.6"/>
<path d="M214.4,372.1L220.4,369.6L218.9,372.1L220.4,374.6Z" fill="#ff2d2d"/>
<g clip-path="url(#cpb2)">
<path d="M318.3,362.1C318.44,361.56 319.17,358.82 319.5,357.5C319.83,356.18 320.65,352.64 321.1,350.8C321.56,348.96 322.93,344.48 323.4,341.7C323.87,338.92 324.76,330.46 325.1,327C325.44,323.54 325.97,314.69 326.3,312C326.63,309.31 327.57,306.16 327.9,303.9C328.23,301.64 328.76,295.5 329.1,292.6C329.44,289.7 330.4,281.91 330.8,279C331.2,276.09 332.1,270.08 332.5,267.7C332.9,265.32 333.8,260.19 334.2,258.6C334.6,257.01 335.5,254.1 335.9,254.1C336.3,254.1 337.2,257.01 337.6,258.6C338,260.19 338.9,265.32 339.3,267.7C339.7,270.08 340.6,276.36 341,279C341.4,281.64 342.3,287.66 342.7,290.3C343.1,292.94 344,299.13 344.4,301.6C344.8,304.07 345.65,309.2 346.1,311.5C346.56,313.8 347.71,318.97 348.3,321.3C348.89,323.63 350.61,330.06 351.2,331.5C351.79,332.94 352.77,333.74 353.4,333.6C354.03,333.46 355.9,331.6 356.6,330.3C357.3,329 358.75,324.58 359.4,322.5C360.05,320.42 361.58,314.54 362.2,312.5C362.82,310.46 364.07,306.53 364.7,305C365.33,303.47 367,300.25 367.6,299.4C368.2,298.55 369.28,297.57 369.8,297.7C370.32,297.83 371.56,299.51 372.1,300.5C372.64,301.49 373.86,304.8 374.4,306.2C374.94,307.6 376.12,310.74 376.7,312.5C377.28,314.26 378.69,318.81 379.4,321.3C380.11,323.79 382.01,330.9 382.8,333.8C383.59,336.7 385.41,343.69 386.2,346.2C386.99,348.71 388.81,353.71 389.6,355.3C390.39,356.89 392.07,359.01 393,359.8C393.93,360.59 397.06,361.83 397.6,362.1Z" fill="#b2b0b0"/>
<path d="M313.2,253.5C313.03,253.78 311.84,254.88 311.5,256.3C311.16,257.72 310.14,265.43 309.8,267.7C309.46,269.97 308.44,276.51 308.1,279C307.76,281.49 306.68,290.11 306.4,292.6C306.12,295.09 305.48,301.86 305.3,303.9C305.12,305.94 304.75,310.69 304.6,313C304.45,315.31 303.92,323.9 303.8,327C303.68,330.1 303.59,341.17 303.4,344C303.21,346.83 302.33,353.49 301.9,355.3C301.47,357.11 298.02,361.51 299.1,362.1C300.18,362.69 311.03,361.56 312.7,361.2C314.37,360.84 315.35,359.02 315.8,358.5C316.25,357.98 317.12,356.43 317.2,356C317.28,355.57 316.77,355.4 316.6,354.2C316.43,353 315.69,346.72 315.5,344C315.31,341.28 314.82,330.2 314.7,327C314.58,323.8 314.37,315.1 314.3,312C314.23,308.9 314.05,299.3 314,296C313.95,292.7 313.84,281.83 313.8,279C313.76,276.17 313.62,268.83 313.6,267.7Z" fill="#e83323"/>
<path d="M313.2,362.1C313.4,361.79 314.8,359.59 315.2,359C315.6,358.41 316.78,356.34 317.2,356.2C317.62,356.06 318.95,357.29 319.4,357.6C319.85,357.91 321.3,358.85 321.7,359.3C322.1,359.75 323.23,361.82 323.4,362.1Z" fill="#6a33f0" stroke="#fff" stroke-width="0.5" stroke-opacity="0.85"/>
<path d="M326.8,362.1C327.08,361.92 329.09,360.3 329.6,360.3C330.11,360.3 331.67,361.92 331.9,362.1Z" fill="#6a33f0" stroke="#fff" stroke-width="0.5" stroke-opacity="0.85"/>
<path d="M341.5,362.1C341.79,361.65 343.89,358.22 344.4,357.6C344.91,356.98 346.21,355.96 346.6,355.9C346.99,355.84 347.9,356.38 348.3,357C348.7,357.62 350.37,361.59 350.6,362.1Z" fill="#6a33f0" stroke="#fff" stroke-width="0.5" stroke-opacity="0.85"/>
<path d="M299.1,362.1C300.95,361.95 310.44,361.45 313,361C315.56,360.55 316.99,359.31 318.3,358.7C319.61,358.09 321.89,357.31 322.8,356.4C323.71,355.49 324.49,353.55 325.1,351.9C325.71,350.25 326.87,346.56 327.4,344C327.93,341.44 328.58,334.82 329.1,332.7C329.62,330.58 330.62,329.17 331.3,328.1C331.98,327.03 333.59,326.21 334.2,324.7C334.81,323.19 335.53,318.76 335.9,316.8C336.27,314.84 336.77,311.72 337,310C337.23,308.28 337.29,305.77 337.6,303.9C337.91,302.03 338.93,297.28 339.3,296C339.67,294.72 340.03,293.85 340.4,294.3C340.77,294.75 341.65,297.67 342.1,299.4C342.55,301.13 343.35,305.65 343.8,307.3C344.25,308.95 344.82,311.08 345.5,311.8C346.18,312.52 347.99,312.61 348.9,312.7C349.81,312.79 351.54,313.02 352.3,312.5C353.06,311.98 354.12,309.49 354.6,308.8C355.08,308.11 355.53,307.19 355.9,307.3C356.27,307.41 356.97,308.84 357.4,309.6C357.83,310.36 358.65,312.55 359.1,313C359.55,313.45 360.35,313.91 360.8,313C361.25,312.09 362.05,308.47 362.5,306.2C362.95,303.93 363.75,298.57 364.2,296C364.65,293.43 365.45,288.87 365.9,286.9C366.35,284.93 367.24,282.01 367.6,281.2C367.96,280.39 368.23,280.41 368.6,280.8C368.97,281.19 369.93,284.34 370.4,284.1C370.87,283.86 371.73,281.19 372.1,279C372.47,276.81 372.89,270.57 373.2,267.7C373.51,264.83 374.09,259.39 374.4,257.5C374.71,255.61 375.13,253.66 375.5,253.5C375.87,253.34 376.68,254.57 377.2,256.3C377.72,258.03 378.88,263.47 379.4,266.5C379.92,269.53 380.65,275.52 381.1,279C381.55,282.48 382.35,289.28 382.8,292.6C383.25,295.92 384.07,301.18 384.5,303.9C384.93,306.62 385.61,310.37 386,313C386.39,315.63 386.99,320.53 387.4,323.6C387.81,326.67 388.65,333.13 389.1,336C389.55,338.87 390.28,343.35 390.8,345.1C391.32,346.85 392.25,348.34 393,349.1C393.75,349.86 395.64,350.2 396.4,350.8C397.16,351.4 398.09,353.08 398.7,353.6C399.31,354.12 400.32,354.85 401,354.7C401.68,354.55 403.2,352.42 403.8,352.5C404.4,352.58 405.05,354.33 405.5,355.3C405.95,356.27 406.83,358.89 407.2,359.8C407.57,360.71 408.15,361.79 408.3,362.1" fill="none" stroke="#585858" stroke-width="0.8" stroke-linejoin="round"/>
<path d="M299.1,362.1C299.47,361.19 301.33,357.71 301.9,355.3C302.47,352.89 303.15,347.77 303.4,344C303.65,340.23 303.64,331.13 303.8,327C303.96,322.87 304.4,316.08 304.6,313C304.8,309.92 305.06,306.62 305.3,303.9C305.54,301.18 306.03,295.92 306.4,292.6C306.77,289.28 307.65,282.32 308.1,279C308.55,275.68 309.35,270.73 309.8,267.7C310.25,264.67 311.05,258.19 311.5,256.3C311.95,254.41 312.81,252.74 313.2,253.5C313.59,254.26 314.01,258.6 314.4,262C314.79,265.4 315.73,274.47 316.1,279C316.47,283.53 316.83,291.77 317.2,296C317.57,300.23 318.45,307.47 318.9,310.7C319.35,313.93 319.92,318.03 320.6,320.2C321.28,322.37 323.25,325.19 324,327C324.75,328.81 325.52,332.44 326.2,333.8C326.88,335.16 328.49,335.69 329.1,337.2C329.71,338.71 330.28,343.14 330.8,345.1C331.32,347.06 332.25,350.39 333,351.9C333.75,353.41 335.56,355.64 336.4,356.4C337.24,357.16 338.62,356.99 339.3,357.6C339.98,358.21 340.82,360.85 341.5,361C342.18,361.15 343.56,359.38 344.4,358.7C345.24,358.02 346.89,356.13 347.8,355.9C348.71,355.67 350.15,356.8 351.2,357C352.25,357.2 354.79,357.09 355.7,357.4C356.61,357.71 357.45,358.82 358,359.3C358.55,359.78 359.2,360.63 359.8,361C360.4,361.37 356.03,361.95 362.5,362.1C368.97,362.25 402.19,362.1 408.3,362.1" fill="none" stroke="#a22e26" stroke-width="0.9" stroke-linejoin="round"/>
<path d="M307,313C307.14,311.3 308.12,299.4 308.4,296C308.68,292.6 309.54,281.83 309.8,279C310.06,276.17 310.74,269.8 311,267.7C311.26,265.6 312.18,259.37 312.4,258C312.62,256.63 313.12,254.4 313.2,254" fill="none" stroke="#b02a1c" stroke-width="0.5" stroke-linejoin="round"/>
</g>
<path d="M344.9,365.5H312.9" stroke="#ff2d2d" stroke-width="1.5" fill="none"/>
<path d="M310.4,365.5L316.4,363L314.9,365.5L316.4,368Z" fill="#ff2d2d"/>
<path d="M367,372.3H317.4" stroke="#ff2d2d" stroke-width="1.5" fill="none" stroke-dasharray="1.7 1.6"/>
<path d="M314.9,372.3L320.9,369.8L319.4,372.3L320.9,374.8Z" fill="#ff2d2d"/>
<g clip-path="url(#cpb3)">
<path d="M458,362.1C458.68,361.31 463.66,355.56 464.8,354.2C465.94,352.84 468.49,349.52 469.4,348.5C470.31,347.48 473,344.59 473.9,344C474.8,343.41 477.49,343 478.4,342.6C479.31,342.2 481.93,340.88 483,340C484.07,339.12 487.9,335.1 489.1,333.8C490.3,332.5 493.41,330.38 495,327C496.59,323.62 503.6,306.5 505,300C506.4,293.5 508.46,266.45 509,262C509.54,257.55 510.17,256.29 510.4,255.5C510.63,254.71 511.1,253.95 511.3,254.1C511.5,254.25 512.19,256.21 512.4,257C512.61,257.79 513.13,259.8 513.4,262C513.67,264.2 514.7,275.6 515.1,279C515.5,282.4 517,292.83 517.4,296C517.8,299.17 518.76,307.83 519.1,310.7C519.44,313.57 520.35,321.6 520.8,324.7C521.25,327.8 523.04,338.98 523.6,341.7C524.16,344.42 525.78,350.31 526.4,351.9C527.02,353.49 529.12,356.75 529.8,357.6C530.48,358.45 532.63,359.95 533.2,360.4C533.77,360.85 535.27,361.93 535.5,362.1Z" fill="#b2b0b0"/>
<path d="M505.5,253.3C505.25,253.73 502.98,257.74 502.5,258.5C502.02,259.26 500.17,261.63 499.8,262.4C499.43,263.17 498.33,266.32 498.1,267.7C497.87,269.08 497.18,276.64 497,279C496.82,281.36 496.09,293.55 495.9,296C495.71,298.45 494.89,306.29 494.7,308.4C494.51,310.51 493.74,319.58 493.6,321.3C493.46,323.02 492.29,329.52 493,329C493.71,328.48 500.52,317.42 502.1,315C503.68,312.58 511.38,304.42 512,300C512.62,295.58 509.78,265.54 509.5,262C509.22,258.46 508.75,258.02 508.6,257.5C508.45,256.98 507.77,255.94 507.7,255.8Z" fill="#e83323"/>
<path d="M491.1,362.1C491.13,360.59 491.37,346.69 491.5,344C491.63,341.31 492.24,331.22 492.7,329.8C493.16,328.38 496.45,327.52 497,327C497.55,326.48 498.97,324.54 499.3,323.6C499.63,322.66 500.72,317.53 501,315.7C501.28,313.87 502.38,304.19 502.7,301.6C503.02,299.01 504.52,287.24 504.9,284.6C505.27,281.96 506.87,271.66 507.2,269.9C507.53,268.14 508.7,264.06 508.9,263.5C509.1,262.94 509.46,262.85 509.6,263.2C509.74,263.55 510.48,266.38 510.6,267.7C510.73,269.02 511.01,276.64 511.1,279C511.19,281.36 511.59,293.17 511.7,296C511.81,298.83 512.26,309.94 512.4,313C512.54,316.06 513.27,329.65 513.4,332.7C513.53,335.75 513.92,347.15 514,349.6C514.08,352.05 514.37,361.06 514.4,362.1Z" fill="#6a33f0" stroke="#fff" stroke-width="0.5" stroke-opacity="0.85"/>
<path d="M512.6,262L514.1,290L514.7,320L515.2,362" stroke="#fff" stroke-width="0.6" fill="none" opacity="0.8"/>
<path d="M426.3,362.1C429.17,362.09 444.63,362.31 447.8,362C450.97,361.69 449.57,361 450.1,359.8C450.63,358.6 451.43,355.11 451.8,353C452.17,350.89 452.59,346.41 452.9,344C453.21,341.59 453.57,336.71 454.1,334.9C454.63,333.09 456.07,332.05 456.9,330.4C457.73,328.75 459.62,324.46 460.3,322.5C460.98,320.54 461.63,318.49 462,315.7C462.37,312.91 462.73,305.75 463.1,301.6C463.47,297.45 464.41,288.83 464.8,284.6C465.19,280.37 465.69,272.99 466,269.9C466.31,266.81 466.65,262.83 467.1,261.4C467.55,259.97 468.87,259.8 469.4,259.2C469.93,258.6 470.58,256.98 471.1,256.9C471.62,256.82 472.78,258.83 473.3,258.6C473.82,258.37 474.57,255.88 475,255.2C475.43,254.52 476.11,253.05 476.5,253.5C476.89,253.95 477.49,257.16 477.9,258.6C478.31,260.04 479.15,263.39 479.6,264.3C480.05,265.21 480.85,265.56 481.3,265.4C481.75,265.24 482.57,263.86 483,263.1C483.43,262.34 484.07,259.77 484.5,259.7C484.93,259.63 485.59,261.99 486.2,262.6C486.81,263.21 488.49,262.73 489.1,264.3C489.71,265.87 490.35,272.15 490.8,274.4C491.25,276.65 491.98,280.07 492.5,281.2C493.02,282.33 494.18,281.38 494.7,282.9C495.22,284.42 495.95,289.95 496.4,292.6C496.85,295.25 497.65,300.92 498.1,302.8C498.55,304.68 499.35,306.86 499.8,306.7C500.25,306.54 501.05,303.79 501.5,301.6C501.95,299.41 502.75,293.31 503.2,290.3C503.65,287.29 504.45,282.01 504.9,279C505.35,275.99 506.23,270.27 506.6,267.7C506.97,265.13 507.39,260.91 507.7,259.7C508.01,258.49 508.59,257.99 508.9,258.6C509.21,259.21 509.71,261.58 510,264.3C510.29,267.02 510.79,275.23 511.1,279C511.41,282.77 511.91,288.68 512.3,292.6C512.69,296.52 513.55,303.81 514,308.4C514.45,312.99 515.25,322.56 515.7,327C516.15,331.44 516.8,338.38 517.4,341.7C518,345.02 519.29,349.94 520.2,351.9C521.11,353.86 523.21,355.64 524.2,356.4C525.19,357.16 526.69,357.15 527.6,357.6C528.51,358.05 530.09,359.2 531,359.8C531.91,360.4 533.95,361.79 534.4,362.1" fill="none" stroke="#585858" stroke-width="0.8" stroke-linejoin="round"/>
<path d="M426.3,362.1C432.56,362.1 473.21,362.17 480,362.1C486.79,362.03 483.44,361.63 484.5,361.5C485.56,361.37 488.37,361.45 489.1,361C489.84,360.55 490.4,358.66 490.8,357.6C491.2,356.54 491.91,353.09 492.5,351.9C493.09,350.71 495.3,348.46 495.9,347.4C496.5,346.34 497.27,344.51 497.6,342.8C497.93,341.09 498.44,335.21 498.7,332.7C498.96,330.19 499.53,323.95 499.8,321.3C500.07,318.65 500.6,313.62 501,310C501.4,306.38 502.75,294.19 503.2,290.3C503.65,286.42 504.5,279.61 504.9,276.7C505.3,273.79 506.33,267.38 506.6,265.4C506.87,263.42 507,260.56 507.2,259.7C507.4,258.84 508.22,257.33 508.3,258C508.38,258.67 507.88,264.07 507.9,265.4C507.92,266.73 508.32,269.47 508.5,269.4C508.68,269.33 509.15,265.34 509.4,264.8C509.64,264.26 510.4,263.81 510.6,264.8C510.8,265.79 510.9,270.32 511.1,273.3C511.3,276.28 512.03,287 512.3,290.3C512.57,293.6 513.17,298.95 513.4,301.6C513.63,304.25 514.1,310.04 514.3,313C514.5,315.96 514.88,323.65 515.1,327C515.32,330.35 515.87,338.8 516.2,341.7C516.53,344.6 517.36,349.92 517.9,351.9C518.44,353.88 520.13,357.51 520.8,358.7C521.46,359.89 521.88,361.7 523.6,362.1C525.32,362.5 534.11,362.1 535.5,362.1" fill="none" stroke="#a22e26" stroke-width="0.9" stroke-linejoin="round"/>
</g>
<path d="M509.4,365.8H506.3" stroke="#ff2d2d" stroke-width="1.5" fill="none"/>
<path d="M503.8,365.8L509.8,363.3L508.3,365.8L509.8,368.3Z" fill="#ff2d2d"/>
<path d="M484.5,372.1H504.9" stroke="#ff2d2d" stroke-width="1.5" fill="none" stroke-dasharray="1.7 1.6"/>
<path d="M507.4,372.1L501.4,369.6L502.9,372.1L501.4,374.6Z" fill="#ff2d2d"/>
<g clip-path="url(#cpb4)">
<path d="M567.7,362.1C568.15,361.87 571.41,360.25 572.2,359.8C572.99,359.35 575.04,357.99 575.6,357.6C576.16,357.21 577.41,355.96 577.8,355.9C578.19,355.84 579.16,356.78 579.5,357C579.84,357.22 580.74,358.16 581.2,358.1C581.66,358.04 583.53,356.74 584.1,356.4C584.67,356.06 586.28,355.38 586.9,354.7C587.52,354.02 589.62,350.9 590.3,349.6C590.98,348.3 593.13,343.39 593.7,341.7C594.27,340.01 595.6,334.51 596,332.7C596.4,330.89 597.41,325.57 597.7,323.6C597.99,321.63 598.68,315.2 598.9,313C599.12,310.8 599.68,304.44 599.9,301.6C600.12,298.76 600.87,287.99 601.1,284.6C601.33,281.21 601.98,270.53 602.2,267.7C602.42,264.87 603.07,256.3 603.3,256.3C603.53,256.3 604.21,265.21 604.5,267.7C604.79,270.19 605.86,278.6 606.2,281.2C606.54,283.8 607.56,291.2 607.9,293.7C608.24,296.2 609.32,304.17 609.6,306.2C609.88,308.23 610.43,311.62 610.7,314C610.97,316.38 611.94,327.2 612.3,330C612.66,332.8 613.74,340.6 614.3,342C614.86,343.4 617.31,343.46 617.9,344C618.49,344.54 619.95,345.59 620.2,347.4C620.45,349.21 620.38,360.63 620.4,362.1Z" fill="#b2b0b0"/>
<path d="M627.3,255.2C627.22,256.24 626.57,265.72 626.4,267.7C626.23,269.68 625.48,276.93 625.3,279C625.12,281.07 624.39,290.53 624.2,292.6C624.01,294.68 623.19,302.03 623,303.9C622.81,305.77 622.08,312.13 621.9,315C621.72,317.87 620.93,335.47 620.8,338.3C620.67,341.13 620.34,347.02 620.3,349C620.26,350.98 618.02,361.01 620.3,362.1C622.58,363.19 645.42,363.69 647.7,362.1C649.98,360.51 647.73,344.61 647.7,343C647.68,341.39 647.71,343.1 647.4,342.8C647.09,342.5 644.48,340.72 644,339.4C643.52,338.08 642.02,329.2 641.7,327C641.38,324.8 640.39,314.93 640.2,313C640.01,311.07 639.56,305.6 639.4,303.9C639.24,302.2 638.48,294.49 638.3,292.6C638.12,290.71 637.43,282.82 637.2,281.2C636.97,279.57 635.73,273.57 635.5,273.1C635.27,272.63 634.63,275.07 634.4,275.6C634.17,276.13 633.03,279.69 632.7,279.5C632.37,279.31 630.73,274.76 630.4,273.3C630.07,271.84 628.84,262.94 628.7,262Z" fill="#e83323"/>
<path d="M620.2,349.1C620.35,349.12 624.44,349.39 624.7,349.6C624.96,349.81 627.85,354.88 628.1,355.3C628.35,355.72 632.36,361.87 632.1,362.1C631.84,362.33 620.6,362.1 620.2,362.1Z" fill="#6a33f0" stroke="#fff" stroke-width="0.5" stroke-opacity="0.85"/>
<path d="M554.4,362.1C554.45,357.82 554.71,337.75 554.8,330C554.89,322.25 554.99,305.33 555.1,304C555.21,302.67 555.44,315.2 555.6,320C555.76,324.8 556.05,335.29 556.3,340C556.55,344.71 557.11,352.35 557.5,355.3C557.89,358.25 558.75,361.5 559.2,362.1C559.65,362.7 560.45,361.76 560.9,359.8C561.35,357.84 562.19,350.12 562.6,347.4C563.01,344.68 563.63,339.4 564,339.4C564.37,339.4 565.04,345.13 565.4,347.4C565.76,349.67 566.33,356.85 566.7,356.4C567.07,355.95 567.84,347.61 568.2,344C568.56,340.39 569.09,330.37 569.4,329.3C569.71,328.23 570.21,334.12 570.5,336C570.79,337.88 571.31,343.4 571.6,343.4C571.89,343.4 572.39,337.36 572.7,336C573.01,334.64 573.51,333.04 573.9,333.2C574.29,333.36 575.08,337.2 575.6,337.2C576.12,337.2 577.2,333.88 577.8,333.2C578.4,332.52 579.49,332.17 580.1,332.1C580.71,332.03 581.87,333.69 582.4,332.7C582.93,331.71 583.65,326.82 584.1,324.7C584.55,322.58 585.35,319.12 585.8,316.8C586.25,314.48 587.05,308.87 587.5,307.3C587.95,305.73 588.68,305.37 589.2,305C589.72,304.63 590.88,305.25 591.4,304.5C591.92,303.75 592.65,301.29 593.1,299.4C593.55,297.51 594.35,292.87 594.8,290.3C595.25,287.73 596.05,282.67 596.5,280.1C596.95,277.53 597.75,273.27 598.2,271C598.65,268.73 599.45,265.06 599.9,263.1C600.35,261.14 601.09,257.5 601.6,256.3C602.11,255.1 603.17,254.1 603.7,254.1C604.23,254.1 605.12,255.25 605.6,256.3C606.08,257.35 606.85,260.04 607.3,262C607.75,263.96 608.55,268.28 609,271C609.45,273.72 610.17,279.52 610.7,282.4C611.23,285.28 612.49,290.19 613,292.6C613.51,295.01 613.99,298.23 614.5,300.5C615.01,302.77 616.19,308.55 616.8,309.6C617.41,310.65 618.57,308.25 619.1,308.4C619.63,308.55 620.43,309.82 620.8,310.7C621.17,311.58 621.61,313.28 621.9,315C622.19,316.72 622.55,320.95 623,323.6C623.45,326.25 624.62,332.49 625.3,334.9C625.98,337.31 627.27,339.58 628.1,341.7C628.93,343.82 630.66,348.68 631.5,350.8C632.34,352.92 633.49,356.17 634.4,357.6C635.31,359.03 637.02,360.9 638.3,361.5C639.58,362.1 643.24,362.02 644,362.1" fill="none" stroke="#585858" stroke-width="0.8" stroke-linejoin="round"/>
<path d="M554.4,362.1C555.11,362.13 558.23,362.45 559.7,362.3C561.17,362.15 564.19,361.63 565.4,361C566.61,360.37 568.04,358.81 568.8,357.6C569.56,356.39 570.5,353.71 571.1,351.9C571.7,350.09 572.7,345.96 573.3,344C573.9,342.04 575,338.64 575.6,337.2C576.2,335.76 577.2,333.8 577.8,333.2C578.4,332.6 579.49,332.54 580.1,332.7C580.71,332.86 581.8,334.03 582.4,334.4C583,334.77 584,335.58 584.6,335.5C585.2,335.42 586.14,334.56 586.9,333.8C587.66,333.04 589.54,330.4 590.3,329.8C591.06,329.2 592,329.22 592.6,329.3C593.2,329.38 594.2,330.11 594.8,330.4C595.4,330.69 596.34,331.27 597.1,331.5C597.86,331.73 599.67,331.82 600.5,332.1C601.33,332.38 602.62,333.68 603.3,333.6C603.98,333.52 604.99,332.69 605.6,331.5C606.21,330.31 607.3,326.66 607.9,324.7C608.5,322.74 609.51,319.43 610.1,316.8C610.69,314.17 611.71,307.77 612.3,305C612.89,302.23 613.98,297.88 614.5,296C615.02,294.12 615.81,291.66 616.2,290.9C616.59,290.14 617.01,290.07 617.4,290.3C617.79,290.53 618.65,291.84 619.1,292.6C619.55,293.36 620.35,295.48 620.8,296C621.25,296.52 622.05,296.95 622.5,296.5C622.95,296.05 623.75,294.19 624.2,292.6C624.65,291.01 625.45,287.17 625.9,284.6C626.35,282.03 627.23,276.31 627.6,273.3C627.97,270.29 628.33,264.27 628.7,262C629.07,259.73 629.8,257.35 630.4,256.3C631,255.25 632.52,254.17 633.2,254.1C633.88,254.03 634.97,254.75 635.5,255.8C636.03,256.85 636.83,259.97 637.2,262C637.57,264.03 638.01,268.59 638.3,271C638.59,273.41 639.03,278.43 639.4,280.1C639.77,281.77 640.65,283.65 641.1,283.5C641.55,283.35 642.35,280.36 642.8,279C643.25,277.64 644.07,274.21 644.5,273.3C644.93,272.39 645.61,271.89 646,272.2C646.39,272.51 647.07,273.95 647.4,275.6C647.73,277.25 648.21,281.88 648.5,284.6C648.79,287.32 649.29,292.97 649.6,296C649.91,299.03 650.52,304.77 650.8,307.3C651.08,309.83 651.47,313.13 651.7,315C651.93,316.87 652.25,318.94 652.5,321.3C652.75,323.66 653.23,329.53 653.6,332.7C653.97,335.87 654.77,342.09 655.3,345.1C655.83,348.11 657,353.26 657.6,355.3C658.2,357.34 659.05,359.49 659.8,360.4C660.55,361.31 662.75,361.87 663.2,362.1" fill="none" stroke="#a22e26" stroke-width="0.9" stroke-linejoin="round"/>
</g>
<path d="M603.9,365.8H628.7" stroke="#ff2d2d" stroke-width="1.6" fill="none"/>
<path d="M631.2,365.8L625.2,363.3L626.7,365.8L625.2,368.3Z" fill="#ff2d2d"/>
<path d="M600.5,372.1H624.7" stroke="#ff2d2d" stroke-width="1.5" fill="none" stroke-dasharray="1.7 1.6"/>
<path d="M627.2,372.1L621.2,369.6L622.7,372.1L621.2,374.6Z" fill="#ff2d2d"/>
<rect x="39.55" y="249.45" width="117.75" height="126.6" fill="none" stroke="#2a2a2a" stroke-width="1.2" stroke-linejoin="round"/>
<rect x="167.15" y="249.45" width="117.35" height="126.6" fill="none" stroke="#2a2a2a" stroke-width="1.2" stroke-linejoin="round"/>
<rect x="294.8" y="249.45" width="117.65" height="126.6" fill="none" stroke="#2a2a2a" stroke-width="1.2" stroke-linejoin="round"/>
<rect x="422.25" y="249.45" width="117.25" height="126.6" fill="none" stroke="#2a2a2a" stroke-width="1.2" stroke-linejoin="round"/>
<rect x="550.15" y="249.45" width="117.35" height="126.6" fill="none" stroke="#2a2a2a" stroke-width="1.2" stroke-linejoin="round"/>
<text x="53.1" y="393" font-size="9.6" text-anchor="middle" fill="#222" >0</text>
<text x="80.1" y="393" font-size="9.6" text-anchor="middle" fill="#222" >10</text>
<text x="107.1" y="393" font-size="9.6" text-anchor="middle" fill="#222" >20</text>
<text x="133.7" y="393" font-size="9.6" text-anchor="middle" fill="#222" >30</text>
<text x="182.6" y="393" font-size="9.6" text-anchor="middle" fill="#222" >6</text>
<text x="214" y="393" font-size="9.6" text-anchor="middle" fill="#222" >10</text>
<text x="246.2" y="393" font-size="9.6" text-anchor="middle" fill="#222" >14</text>
<text x="278.6" y="393" font-size="9.6" text-anchor="middle" fill="#222" >18</text>
<text x="306.5" y="393" font-size="9.6" text-anchor="middle" fill="#222" >10</text>
<text x="332.2" y="393" font-size="9.6" text-anchor="middle" fill="#222" >20</text>
<text x="356.6" y="393" font-size="9.6" text-anchor="middle" fill="#222" >30</text>
<text x="382" y="393" font-size="9.6" text-anchor="middle" fill="#222" >40</text>
<text x="407" y="393" font-size="9.6" text-anchor="middle" fill="#222" >50</text>
<text x="426" y="393" font-size="9.6" text-anchor="middle" fill="#222" >0</text>
<text x="459.1" y="393" font-size="9.6" text-anchor="middle" fill="#222" >10</text>
<text x="492.6" y="393" font-size="9.6" text-anchor="middle" fill="#222" >100</text>
<text x="525.7" y="393" font-size="9.6" text-anchor="middle" fill="#222" >1000</text>
<text x="554.6" y="393" font-size="9.6" text-anchor="middle" fill="#222" >0</text>
<text x="585.8" y="393" font-size="9.6" text-anchor="middle" fill="#222" >10</text>
<text x="616.3" y="393" font-size="9.6" text-anchor="middle" fill="#222" >100</text>
<text x="648.4" y="393" font-size="9.6" text-anchor="middle" fill="#222" >1000</text>
<text x="671.8" y="257.7" font-size="9.4" fill="#222" >1</text>
<text x="671.8" y="279.7" font-size="9.4" fill="#222" >0.8</text>
<text x="671.8" y="300.9" font-size="9.4" fill="#222" >0.6</text>
<text x="671.8" y="322.5" font-size="9.4" fill="#222" >0.4</text>
<text x="671.8" y="344.1" font-size="9.4" fill="#222" >0.2</text>
<text x="671.8" y="365.7" font-size="9.4" fill="#222" >0</text>
<text x="3.03" y="411.8" font-size="12" textLength="14.02" lengthAdjust="spacingAndGlyphs" fill="#1a1a1a" font-weight="bold" >(c)</text>
<path d="M49.9,532.5H178.5M114.3,468.3V596" stroke="#8c8c8c" stroke-width="0.7" fill="none"/>
<circle cx="114.3" cy="532.5" r="61" fill="none" stroke="#3a3a3a" stroke-width="0.9"/>
<rect x="26" y="424" width="68.2" height="72.3" fill="#fff"/>
<rect x="55.9" y="443" width="8.5" height="46" fill="url(#cg)"/>
<text x="28.23" y="439.7" font-size="12.4" textLength="72.78" lengthAdjust="spacingAndGlyphs" fill="#1a1a1a" >Contribution</text>
<text x="66.35" y="450.9" font-size="10.8" textLength="12.21" lengthAdjust="spacingAndGlyphs" fill="#1a1a1a" >25</text>
<text x="66.35" y="469.3" font-size="10.8" textLength="12.21" lengthAdjust="spacingAndGlyphs" fill="#1a1a1a" >20</text>
<text x="67.24" y="488.7" font-size="10.8" textLength="11.29" lengthAdjust="spacingAndGlyphs" fill="#1a1a1a" >15</text>
<path d="M114.3,532.5L67.96,523.11" stroke="#e9a23b" stroke-width="1.5" fill="none"/>
<path d="M61,521.7L71.01,519.65L67.96,523.11L69.42,527.49Z" fill="#e9a23b"/>
<path d="M114.3,532.5L65.08,536.26" stroke="#e9a23b" stroke-width="1.5" fill="none"/>
<path d="M58,536.8L67.07,532.1L65.08,536.26L67.68,540.07Z" fill="#e9a23b"/>
<path d="M114.3,532.5L155.91,534.29" stroke="#cbb24c" stroke-width="1.5" fill="none"/>
<path d="M163,534.6L153.44,538.19L155.91,534.29L153.78,530.2Z" fill="#cbb24c"/>
<path d="M114.3,532.5L144.35,538.84" stroke="#41a9b9" stroke-width="1.5" fill="none"/>
<path d="M151.3,540.3L141.28,542.27L144.35,538.84L142.93,534.45Z" fill="#41a9b9"/>
<path d="M114.3,532.5L126.35,482.01" stroke="#ef5a2a" stroke-width="1.5" fill="none"/>
<path d="M128,475.1L129.71,485.17L126.35,482.01L121.93,483.31Z" fill="#ef5a2a"/>
<text x="124.37" y="499.4" font-size="11.3" textLength="32.79" lengthAdjust="spacingAndGlyphs" fill="#ef5a2a" >Bio 10</text>
<text x="137.98" y="526.4" font-size="11.3" textLength="32.65" lengthAdjust="spacingAndGlyphs" fill="#cbb24c" >Bio 13</text>
<text x="134.69" y="552.5" font-size="11.3" textLength="32.12" lengthAdjust="spacingAndGlyphs" fill="#41a9b9" >Bio 19</text>
<text x="60.37" y="515.7" font-size="11.3" textLength="26.5" lengthAdjust="spacingAndGlyphs" fill="#e9a23b" >Bio 2</text>
<text x="61.2" y="552.6" font-size="11.3" textLength="25.66" lengthAdjust="spacingAndGlyphs" fill="#e9a23b" >Bio 7</text>
<text x="44.3" y="568.07" font-size="11.6" textLength="63.09" lengthAdjust="spacingAndGlyphs" fill="#1a1a1a" transform="rotate(-90 44.3 568.07)">PCA 2 (20%)</text>
<text x="77.82" y="607" font-size="11.6" textLength="63.5" lengthAdjust="spacingAndGlyphs" fill="#1a1a1a" >PCA 1 (51%)</text>
<text x="455.69" y="441.8" font-size="15.4" textLength="50.63" lengthAdjust="spacingAndGlyphs" fill="#1a1a1a" >Legend</text>
<path d="M287.8,451.6H673.8" stroke="#9a9a9a" stroke-width="0.9" fill="none"/>
<rect x="317.3" y="463" width="11.8" height="11.7" fill="#b0b0b0"/>
<rect x="317.3" y="485.7" width="11.8" height="11.7" fill="#ff0000"/>
<rect x="317.3" y="508.9" width="11.8" height="11.7" fill="#6a2ff2"/>
<text x="340.06" y="475" font-size="15.2" textLength="43.93" lengthAdjust="spacingAndGlyphs" fill="#1a1a1a" >Native</text>
<text x="340.01" y="497.5" font-size="15.2" textLength="52.59" lengthAdjust="spacingAndGlyphs" fill="#1a1a1a" >Invasive</text>
<text x="340.31" y="520.3" font-size="15.2" textLength="53.52" lengthAdjust="spacingAndGlyphs" fill="#1a1a1a" >Overlap</text>
<text x="338.58" y="543.4" font-size="14" textLength="196.69" lengthAdjust="spacingAndGlyphs" fill="#1a1a1a" >100% of environmental space</text>
<text x="339.1" y="567.2" font-size="14" textLength="187.75" lengthAdjust="spacingAndGlyphs" fill="#1a1a1a" >50% of environmental space</text>
<text x="339.02" y="590.9" font-size="14" textLength="296.11" lengthAdjust="spacingAndGlyphs" fill="#1a1a1a" >Shift of the niche along the variable gradient</text>
<text x="339.02" y="614.6" font-size="14" textLength="322.23" lengthAdjust="spacingAndGlyphs" fill="#1a1a1a" >Shift of the available conditions in the study area</text>
<path d="M297.9,539.6H332.1" stroke="#333" stroke-width="1.5" fill="none"/>
<path d="M297.9,563.5H332.1" stroke="#222" stroke-width="1.1" fill="none" stroke-dasharray="3.3 2.7"/>
<path d="M297.9,587.1H328.5" stroke="#ff2d2d" stroke-width="1.2" fill="none"/>
<path d="M332.5,587.1L326.3,584.5L327.6,587.1L326.3,589.7Z" fill="#ff2d2d"/>
<path d="M297.9,611.4H326.5" stroke="#ff2d2d" stroke-width="1.2" fill="none" stroke-dasharray="3 2.9"/>
<path d="M332.5,611.4L326.3,608.8L327.6,611.4L326.3,614Z" fill="#ff2d2d"/>
</svg>
</body></html>
